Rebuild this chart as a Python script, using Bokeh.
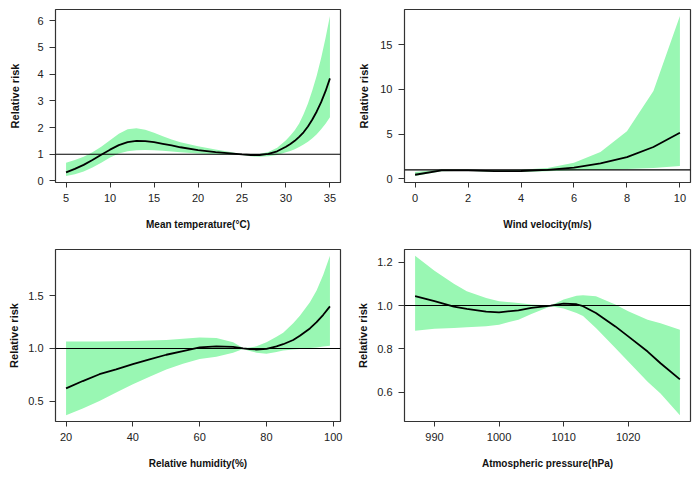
from bokeh.plotting import figure
from bokeh.layouts import column, row
from bokeh.models import Range1d, FixedTicker, Span, PrintfTickFormatter
from bokeh.embed import file_html
from bokeh.resources import INLINE

# ---- data ----
temp_x  = [5, 6, 7, 8, 9, 10, 11, 12, 13, 14, 15, 16, 17, 18, 20, 22, 24, 25, 26, 27, 28, 29, 30, 30.5, 31, 31.5, 32, 32.5, 33, 33.5, 34, 34.5, 35]
temp_rr = [0.32, 0.45, 0.6, 0.78, 0.98, 1.17, 1.34, 1.45, 1.5, 1.49, 1.45, 1.39, 1.33, 1.26, 1.15, 1.08, 1.02, 0.99, 0.97, 0.97, 1.01, 1.11, 1.28, 1.38, 1.5, 1.65, 1.82, 2.04, 2.3, 2.6, 2.95, 3.36, 3.84]
temp_hi = [0.68, 0.78, 0.9, 1.07, 1.28, 1.52, 1.77, 1.93, 1.97, 1.92, 1.8, 1.67, 1.55, 1.45, 1.3, 1.18, 1.06, 1.0, 0.99, 1.01, 1.08, 1.24, 1.52, 1.7, 1.9, 2.15, 2.5, 2.9, 3.4, 3.95, 4.6, 5.35, 6.18]
temp_lo = [0.18, 0.25, 0.35, 0.5, 0.68, 0.88, 1.03, 1.11, 1.15, 1.16, 1.15, 1.13, 1.1, 1.07, 1.03, 1.0, 0.99, 0.97, 0.92, 0.9, 0.92, 0.97, 1.07, 1.12, 1.19, 1.27, 1.36, 1.47, 1.6, 1.75, 1.93, 2.14, 2.38]

wind_x  = [0, 1, 2, 3, 4, 5, 6, 7, 8, 9, 10]
wind_rr = [0.45, 0.95, 0.95, 0.86, 0.87, 1.0, 1.25, 1.72, 2.42, 3.55, 5.15]
wind_hi = [0.75, 1.05, 1.0, 0.95, 1.0, 1.2, 1.8, 3.0, 5.3, 9.8, 18.2]
wind_lo = [0.3, 0.85, 0.9, 0.76, 0.76, 0.85, 0.95, 1.0, 1.1, 1.2, 1.42]

hum_x  = [20, 25, 30, 35, 40, 45, 50, 55, 60, 65, 70, 73, 75, 77, 80, 83, 85, 88, 90, 93, 95, 97, 99]
hum_rr = [0.62, 0.69, 0.755, 0.80, 0.85, 0.895, 0.94, 0.975, 1.01, 1.02, 1.015, 1.0, 0.993, 0.99, 0.995, 1.02, 1.04, 1.08, 1.12, 1.19, 1.25, 1.32, 1.40]
hum_hi = [1.067, 1.067, 1.067, 1.068, 1.07, 1.075, 1.08, 1.092, 1.105, 1.1, 1.06, 1.005, 1.01, 1.02, 1.06, 1.11, 1.15, 1.24, 1.31, 1.44, 1.55, 1.7, 1.88]
hum_lo = [0.366, 0.43, 0.5, 0.58, 0.66, 0.73, 0.8, 0.855, 0.9, 0.92, 0.96, 0.995, 0.975, 0.96, 0.95, 0.965, 0.98, 0.99, 0.995, 1.005, 1.01, 1.018, 1.025]

press_x  = [987, 990, 993, 995, 998, 1000, 1003, 1005, 1008, 1010, 1012, 1013, 1015, 1018, 1020, 1023, 1025, 1028]
press_rr = [1.043, 1.02, 0.995, 0.985, 0.972, 0.969, 0.978, 0.989, 1.0, 1.009, 1.006, 0.997, 0.966, 0.904, 0.858, 0.788, 0.734, 0.66]
press_hi = [1.229, 1.16, 1.1, 1.066, 1.035, 1.02, 1.012, 1.005, 1.0, 1.028, 1.045, 1.048, 1.043, 1.005, 0.974, 0.935, 0.918, 0.889]
press_lo = [0.884, 0.893, 0.897, 0.9, 0.905, 0.912, 0.935, 0.961, 0.997, 0.986, 0.966, 0.952, 0.896, 0.804, 0.742, 0.649, 0.595, 0.495]

temp_xticks = [5, 10, 15, 20, 25, 30, 35]
temp_yticks = [0, 1, 2, 3, 4, 5, 6]
wind_xticks = [0, 2, 4, 6, 8, 10]
wind_yticks = [0, 5, 10, 15]
hum_xticks = [20, 40, 60, 80, 100]
hum_yticks = [0.5, 1.0, 1.5]
press_xticks = [990, 1000, 1010, 1020]
press_yticks = [0.6, 0.8, 1.0, 1.2]

x_labels = ["Mean temperature(\u00b0C)", "Wind velocity(m/s)", "Relative humidity(%)", "Atmospheric pressure(hPa)"]
y_label = "Relative risk"

BAND = "#99F7B3"
FONT = "Liberation Sans"


def padded(lo, hi, frac=0.04):
    d = (hi - lo) * frac
    return lo - d, hi + d


def panel(x, rr, lo, hi, xlabel, xticks, yticks, yfmt, width, height, borders, ylab_standoff):
    xr = padded(min(x), max(x))
    yr = padded(min(lo), max(hi))
    p = figure(width=width, height=height, output_backend="svg", toolbar_location=None,
               x_range=Range1d(*xr), y_range=Range1d(*yr),
               min_border_left=borders[0], min_border_right=borders[1],
               min_border_top=borders[2], min_border_bottom=borders[3])
    p.varea(x=x, y1=lo, y2=hi, fill_color=BAND, fill_alpha=1.0)
    p.line(x, rr, line_color="black", line_width=1.8)
    p.add_layout(Span(location=1, dimension="width", line_color="black", line_width=1.1))
    p.grid.visible = False
    p.outline_line_color = "#333333"
    p.outline_line_width = 1.2
    p.background_fill_color = "white"
    p.border_fill_color = "white"

    for ax in (p.xaxis[0], p.yaxis[0]):
        ax.axis_line_color = None
        ax.minor_tick_line_color = None
        ax.major_tick_line_color = "#333333"
        ax.major_tick_line_width = 1
        ax.major_tick_in = 0
        ax.major_label_text_font = FONT
        ax.major_label_text_font_size = "11px"
        ax.major_label_text_color = "#222222"
        ax.axis_label_text_font = FONT
        ax.axis_label_text_font_style = "bold"
        ax.axis_label_text_color = "#111111"

    p.xaxis[0].axis_label_text_font_size = "10px"
    p.yaxis[0].axis_label_text_font_size = "11px"
    p.xaxis[0].ticker = FixedTicker(ticks=xticks)
    p.yaxis[0].ticker = FixedTicker(ticks=yticks)
    p.yaxis[0].formatter = PrintfTickFormatter(format=yfmt)
    p.xaxis[0].major_tick_out = 5
    p.xaxis[0].major_label_standoff = 6
    p.xaxis[0].axis_label = xlabel
    p.xaxis[0].axis_label_standoff = 14
    p.yaxis[0].major_tick_out = 6
    p.yaxis[0].major_label_standoff = 6
    p.yaxis[0].axis_label = y_label
    p.yaxis[0].axis_label_standoff = ylab_standoff
    return p


p1 = panel(temp_x, temp_rr, temp_lo, temp_hi, x_labels[0], temp_xticks, temp_yticks, "%d",
           350, 244, (55, 10, 9, 62), 13)
p2 = panel(wind_x, wind_rr, wind_lo, wind_hi, x_labels[1], wind_xticks, wind_yticks, "%d",
           342, 244, (54, 2, 9, 62), 7)
p3 = panel(hum_x, hum_rr, hum_lo, hum_hi, x_labels[2], hum_xticks, hum_yticks, "%.1f",
           350, 232, (55, 10, 5, 55), 5)
p4 = panel(press_x, press_rr, press_lo, press_hi, x_labels[3], press_xticks, press_yticks, "%.1f",
           342, 232, (54, 2, 5, 55), 5)

layout = column(row(p1, p2), row(p3, p4))
open("out.html", "w").write(file_html(layout, INLINE))
